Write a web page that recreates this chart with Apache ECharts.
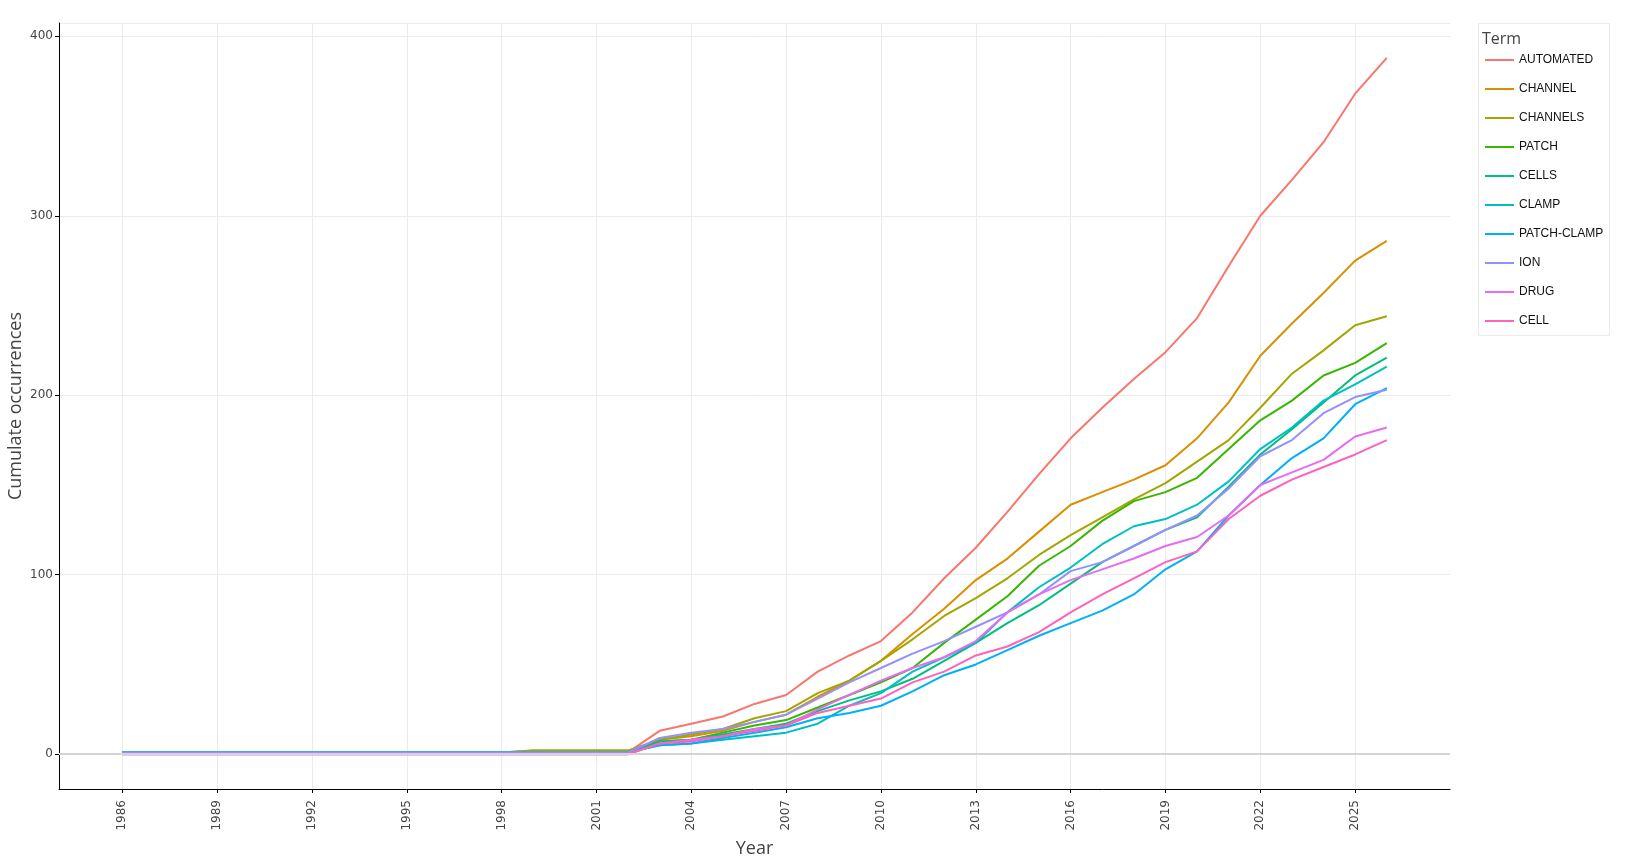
<!DOCTYPE html>
<html style="height: 100%">
<head>
    <meta charset="utf-8">
    <style>
        body{margin: 0; background: #fff;}
        #container{width: 1650px; height: 864px;}
    </style>
</head>
<body>
<div id="container"></div>
<script src="https://cdn.jsdelivr.net/npm/echarts@6/dist/echarts.min.js"></script>
<script type="text/javascript">
    // years on the x axis (one point per year)
    var years = [1986, 1987, 1988, 1989, 1990, 1991, 1992, 1993, 1994, 1995, 1996, 1997, 1998,
        1999, 2000, 2001, 2002, 2003, 2004, 2005, 2006, 2007, 2008, 2009, 2010, 2011, 2012,
        2013, 2014, 2015, 2016, 2017, 2018, 2019, 2020, 2021, 2022, 2023, 2024, 2025, 2026];

    var terms = ["AUTOMATED", "CHANNEL", "CHANNELS", "PATCH", "CELLS", "CLAMP", "PATCH-CLAMP", "ION", "DRUG", "CELL"];
    var colors = ["#F8766D", "#D89000", "#A3A500", "#39B600", "#00BF7D", "#00BFC4", "#00B0F6", "#9590FF", "#E76BF3", "#FF62BC"];

    // cumulated occurrences, 1986 .. 2026
    var automated = [1,1,1,1,1,1,1,1,1,1,1,1,1, 1,1,1,1,
        13,17,21,28,33,46,55,63,79,98,115,135,156,176,193,209,224,243,272,300,320,341,368,388];
    var channel = [1,1,1,1,1,1,1,1,1,1,1,1,1, 2,2,2,2,
        8,10,13,18,22,32,41,52,67,81,97,109,124,139,146,153,161,176,196,222,240,257,275,286];
    var channels = [1,1,1,1,1,1,1,1,1,1,1,1,1, 2,2,2,2,
        8,11,14,20,24,34,41,52,64,77,87,98,111,122,132,142,151,163,175,193,212,225,239,244];
    var patch = [1,1,1,1,1,1,1,1,1,1,1,1,1, 1,1,1,1,
        7,8,12,16,19,26,33,40,48,62,75,88,105,116,130,141,146,154,170,186,197,211,218,229];
    var cells = [1,1,1,1,1,1,1,1,1,1,1,1,1, 1,1,1,1,
        7,8,11,14,17,24,30,35,42,52,62,73,83,95,107,116,125,132,149,167,181,196,211,221];
    var clamp = [1,1,1,1,1,1,1,1,1,1,1,1,1, 1,1,1,1,
        5,6,8,10,12,17,27,34,46,54,62,79,93,104,117,127,131,139,152,170,182,197,206,216];
    var patchClamp = [1,1,1,1,1,1,1,1,1,1,1,1,1, 1,1,1,1,
        5,6,9,12,15,20,23,27,35,44,50,58,66,73,80,89,103,113,133,150,165,176,195,204];
    var ion = [1,1,1,1,1,1,1,1,1,1,1,1,1, 1,1,1,1,
        9,12,14,18,22,31,40,48,56,63,71,79,89,102,107,116,125,133,148,166,175,190,199,203];
    var drug = [0,0,0,0,0,0,0,0,0,0,0,0,0, 0,0,0,0,
        6,8,10,14,16,25,33,41,48,54,63,79,89,97,103,109,116,121,133,150,157,164,177,182];
    var cell = [0,0,0,0,0,0,0,0,0,0,0,0,0, 0,0,0,0,
        6,7,10,13,16,23,27,31,40,46,55,60,68,79,89,98,107,113,131,144,153,160,167,175];

    var values = [automated, channel, channels, patch, cells, clamp, patchClamp, ion, drug, cell];

    // axis runs a bit wider than the data, like the original
    var axisYears = [];
    for (var y = 1984; y <= 2028; y++) axisYears.push(String(y));

    function showYear(index, value) {
        var v = +value;
        return v >= 1986 && v <= 2025 && (v - 1986) % 3 === 0;
    }

    var dom = document.getElementById("container");
    var myChart = echarts.init(dom);

    var series = terms.map(function (name, k) {
        var s = {
            name: name,
            type: 'line',
            symbol: 'none',
            showSymbol: false,
            animation: false,
            color: colors[k],
            lineStyle: {width: 2, color: colors[k]},
            data: years.map(function (yr, i) {
                return [String(yr), values[k][i]];
            })
        };
        if (k === 0) {
            // zero line
            s.markLine = {
                silent: true,
                symbol: ['none', 'none'],
                label: {show: false},
                lineStyle: {color: '#d4d4d4', width: 2, type: 'solid'},
                data: [{yAxis: 0}]
            };
        }
        return s;
    });

    var option = {
        backgroundColor: '#fff',
        animation: false,
        grid: {left: 59, right: 200, top: 23, bottom: 75, containLabel: false, outerBoundsMode: 'none'},
        legend: {
            orient: 'vertical',
            left: 1480,
            top: 48,
            icon: 'rect',
            itemWidth: 29,
            itemHeight: 2,
            itemGap: 15,
            textStyle: {fontFamily: 'Liberation Sans', fontSize: 12, color: '#111', lineHeight: 14},
            data: terms
        },
        graphic: [
            {
                type: 'rect',
                left: 1478,
                top: 23,
                shape: {width: 131, height: 312},
                style: {fill: '#fff', stroke: '#ebebeb', lineWidth: 1},
                z: -1
            },
            {
                type: 'text',
                left: 1482,
                top: 31,
                style: {text: 'Term', fontFamily: 'Open Sans', fontSize: 16, fill: '#444'}
            }
        ],
        xAxis: {
            type: 'category',
            boundaryGap: false,
            data: axisYears,
            name: 'Year',
            nameLocation: 'middle',
            nameGap: 51,
            nameMoveOverlap: false,
            nameTextStyle: {fontFamily: 'Open Sans', fontSize: 18, color: '#444'},
            axisLine: {onZero: false, lineStyle: {color: '#000', width: 1}},
            axisTick: {show: true, interval: showYear, length: 4, lineStyle: {color: '#000'}},
            axisLabel: {
                interval: showYear,
                rotate: 90,
                margin: 11,
                fontFamily: 'DejaVu Sans',
                fontSize: 12,
                color: '#444'
            },
            splitLine: {show: true, interval: showYear, lineStyle: {color: '#ebebeb', width: 1}}
        },
        yAxis: {
            type: 'value',
            min: -19.4,
            max: 407.4,
            splitNumber: 4,
            name: 'Cumulate occurrences',
            nameLocation: 'middle',
            nameRotate: 90,
            nameGap: 34,
            nameMoveOverlap: false,
            nameTextStyle: {fontFamily: 'Open Sans', fontSize: 18, color: '#444'},
            axisLine: {show: true, onZero: false, lineStyle: {color: '#000', width: 1}},
            axisTick: {show: true, length: 4, lineStyle: {color: '#000'}},
            axisLabel: {
                showMinLabel: false,
                showMaxLabel: false,
                margin: 6,
                fontFamily: 'DejaVu Sans',
                fontSize: 12,
                color: '#444'
            },
            splitLine: {show: true, lineStyle: {color: '#ebebeb', width: 1}}
        },
        series: series
    };

    myChart.setOption(option, true);
</script>
</body>
</html>
